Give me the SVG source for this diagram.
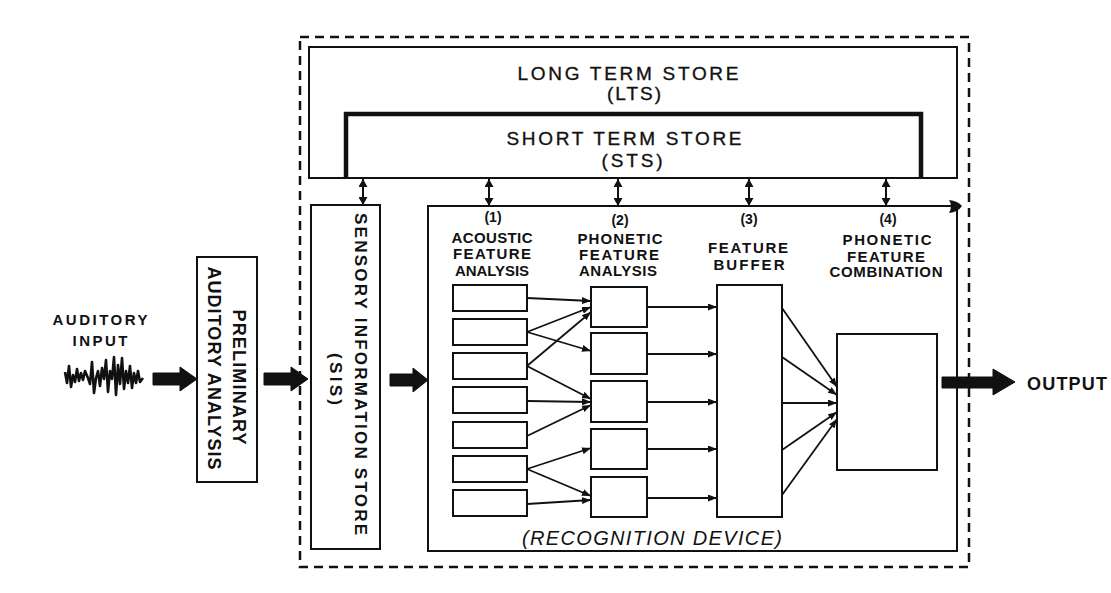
<svg xmlns="http://www.w3.org/2000/svg" width="1111" height="593" viewBox="0 0 1111 593">
  <defs>
    <style>
      .box { fill: none; stroke: #111; stroke-width: 2; }
      .arrow { fill: none; stroke: #111; stroke-width: 1.8; marker-end: url(#head); }
      .dbl { fill: none; stroke: #111; stroke-width: 2; marker-start: url(#small); marker-end: url(#small); }
      .fat { fill: #111; stroke: #111; stroke-width: 1; stroke-linejoin: round; }
      .lbl { font-family: "Liberation Sans", Arial, sans-serif; font-weight: bold; fill: #111; text-anchor: middle; }
      .store { font-family: "Liberation Sans", Arial, sans-serif; font-size: 19px; fill: #111; text-anchor: middle; stroke: #111; stroke-width: 0.35; }
    </style>
    <marker id="head" viewBox="0 0 9 7" refX="9" refY="3.5" markerWidth="9" markerHeight="7" markerUnits="userSpaceOnUse" orient="auto">
      <path d="M0,0 L9,3.5 L0,7 z" fill="#111"/>
    </marker>
    <marker id="small" viewBox="0 0 8 9" refX="8" refY="4.5" markerWidth="8" markerHeight="9" markerUnits="userSpaceOnUse" orient="auto-start-reverse">
      <path d="M0,0 L8,4.5 L0,9 z" fill="#111"/>
    </marker>
  </defs>

  <rect width="1111" height="593" fill="#ffffff"/>

  <!-- dashed boundary of the memory system -->
  <rect id="system" x="300" y="37" width="669" height="530" fill="none" stroke="#111" stroke-width="2.5" stroke-dasharray="9 6"/>

  <g id="lts">
    <rect class="box" x="309" y="47" width="648" height="131"/>
    <text class="store" x="628" y="80" textLength="221" lengthAdjust="spacing">LONG TERM STORE</text>
    <text class="store" x="634" y="100" textLength="54" lengthAdjust="spacing">(LTS)</text>
  </g>

  <g id="sts">
    <path d="M346,178 V114 H921 V178" fill="none" stroke="#111" stroke-width="4.5"/>
    <text class="store" x="624" y="145" textLength="235" lengthAdjust="spacing">SHORT TERM STORE</text>
    <text class="store" x="632" y="167" textLength="61" lengthAdjust="spacing">(STS)</text>
  </g>

  <g id="auditory-input">
    <text class="lbl" x="100" y="325" font-size="15" textLength="95" lengthAdjust="spacing">AUDITORY</text>
    <text class="lbl" x="100" y="346" font-size="15" textLength="55" lengthAdjust="spacing">INPUT</text>
    <polyline fill="none" stroke="#111" stroke-width="2.6" stroke-linejoin="round"
      points="65,372 67,383 69,366 71,387 73,375 75,382 77,369 79,381 81,373 83,380 85,371 88,378 90,384 92,362 94,393 96,378 98,371 100,386 102,368 104,379 106,360 108,392 110,371 112,379 114,357 116,395 118,365 120,384 122,358 124,389 126,371 128,383 130,366 132,388 134,373 136,383 138,371 140,382 143,378"/>
  </g>

  <g id="preliminary">
    <rect class="box" x="197" y="257" width="60" height="225"/>
    <text class="lbl" font-size="18" transform="translate(233,377) rotate(90)" textLength="135" lengthAdjust="spacing">PRELIMINARY</text>
    <text class="lbl" font-size="18" transform="translate(208,368) rotate(90)" textLength="203" lengthAdjust="spacing">AUDITORY  ANALYSIS</text>
  </g>

  <g id="sis">
    <rect class="box" x="311" y="205" width="69" height="344"/>
    <text class="lbl" font-size="17" transform="translate(355,374) rotate(90)" textLength="322" lengthAdjust="spacing">SENSORY INFORMATION STORE</text>
    <text class="lbl" font-size="17" transform="translate(330,379) rotate(90)" textLength="52" lengthAdjust="spacing">(SIS)</text>
  </g>

  <g id="recognition-device">
    <rect class="box" x="428" y="206" width="529" height="345"/>
    <text x="652" y="545" font-family="'Liberation Sans', Arial, sans-serif" font-size="20" font-style="italic" fill="#111" text-anchor="middle" textLength="260" lengthAdjust="spacing">(RECOGNITION  DEVICE)</text>
    <path d="M949,200 Q958,201 962,206 Q958,212 949,213 Q953,206 949,200 z" fill="#111"/>
  </g>

  <g id="acoustic-analysis">
    <text class="lbl" x="493" y="222" font-size="14">(1)</text>
    <text class="lbl" x="492" y="243" font-size="15" textLength="81" lengthAdjust="spacing">ACOUSTIC</text>
    <text class="lbl" x="492" y="259" font-size="15" textLength="78" lengthAdjust="spacing">FEATURE</text>
    <text class="lbl" x="492" y="276" font-size="15" textLength="74" lengthAdjust="spacing">ANALYSIS</text>
    <rect class="box" x="453" y="285" width="74" height="26"/>
    <rect class="box" x="453" y="319" width="74" height="26"/>
    <rect class="box" x="453" y="353" width="74" height="26"/>
    <rect class="box" x="453" y="387" width="74" height="26"/>
    <rect class="box" x="453" y="422" width="74" height="26"/>
    <rect class="box" x="453" y="456" width="74" height="26"/>
    <rect class="box" x="453" y="490" width="74" height="26"/>
  </g>

  <g id="phonetic-analysis">
    <text class="lbl" x="620" y="225" font-size="14">(2)</text>
    <text class="lbl" x="620" y="244" font-size="15" textLength="85" lengthAdjust="spacing">PHONETIC</text>
    <text class="lbl" x="619" y="260" font-size="15" textLength="80" lengthAdjust="spacing">FEATURE</text>
    <text class="lbl" x="618" y="276" font-size="15" textLength="78" lengthAdjust="spacing">ANALYSIS</text>
    <rect class="box" x="591" y="287" width="56" height="40"/>
    <rect class="box" x="591" y="333" width="56" height="41"/>
    <rect class="box" x="591" y="381" width="56" height="41"/>
    <rect class="box" x="591" y="429" width="56" height="40"/>
    <rect class="box" x="591" y="477" width="56" height="40"/>
  </g>

  <g id="feature-buffer">
    <text class="lbl" x="749" y="224" font-size="14">(3)</text>
    <text class="lbl" x="748" y="253" font-size="15" textLength="80" lengthAdjust="spacing">FEATURE</text>
    <text class="lbl" x="749" y="270" font-size="15" textLength="71" lengthAdjust="spacing">BUFFER</text>
    <rect class="box" x="717" y="285" width="65" height="232"/>
  </g>

  <g id="feature-combination">
    <text class="lbl" x="888" y="224" font-size="14">(4)</text>
    <text class="lbl" x="887" y="245" font-size="15" textLength="89" lengthAdjust="spacing">PHONETIC</text>
    <text class="lbl" x="886" y="262" font-size="15" textLength="78" lengthAdjust="spacing">FEATURE</text>
    <text class="lbl" x="886" y="277" font-size="15" textLength="113" lengthAdjust="spacing">COMBINATION</text>
    <rect class="box" x="837" y="334" width="100" height="136"/>
  </g>

  <g id="output">
    <text x="1027" y="390" font-family="'Liberation Sans', Arial, sans-serif" font-size="18" font-weight="bold" fill="#111" textLength="80" lengthAdjust="spacing">OUTPUT</text>
  </g>

  <g id="connectors">
    <!-- block arrows along the main signal path -->
    <path class="fat" d="M153,373 H180 V367 L197,379 L180,391 V385 H153 z"/>
    <path class="fat" d="M264,373 H291 V367 L308,379 L291,391 V385 H264 z"/>
    <path class="fat" d="M390,374 H413 V368 L428,380 L413,392 V386 H390 z"/>
    <path class="fat" d="M942,377 H993 V369 L1015,382 L993,395 V388 H942 z"/>

    <!-- two-way links between STS and the processing stages -->
    <line class="dbl" x1="363" y1="179" x2="363" y2="205"/>
    <line class="dbl" x1="489" y1="179" x2="489" y2="206"/>
    <line class="dbl" x1="618" y1="179" x2="618" y2="206"/>
    <line class="dbl" x1="749" y1="179" x2="749" y2="206"/>
    <line class="dbl" x1="886" y1="179" x2="886" y2="206"/>

    <!-- acoustic features to phonetic features -->
    <line class="arrow" x1="527" y1="298" x2="591" y2="301"/>
    <line class="arrow" x1="527" y1="332" x2="591" y2="307"/>
    <line class="arrow" x1="527" y1="332" x2="591" y2="351"/>
    <line class="arrow" x1="527" y1="366" x2="591" y2="312"/>
    <line class="arrow" x1="527" y1="366" x2="591" y2="399"/>
    <line class="arrow" x1="527" y1="401" x2="591" y2="402"/>
    <line class="arrow" x1="527" y1="436" x2="591" y2="405"/>
    <line class="arrow" x1="527" y1="469" x2="591" y2="448"/>
    <line class="arrow" x1="527" y1="469" x2="591" y2="496"/>
    <line class="arrow" x1="527" y1="504" x2="591" y2="500"/>

    <!-- phonetic features into the buffer -->
    <line class="arrow" x1="647" y1="307" x2="717" y2="307"/>
    <line class="arrow" x1="647" y1="354" x2="717" y2="354"/>
    <line class="arrow" x1="647" y1="402" x2="717" y2="402"/>
    <line class="arrow" x1="647" y1="449" x2="717" y2="449"/>
    <line class="arrow" x1="647" y1="498" x2="717" y2="498"/>

    <!-- buffer into the combination stage -->
    <line class="arrow" x1="782" y1="308" x2="837" y2="387"/>
    <line class="arrow" x1="782" y1="357" x2="837" y2="395"/>
    <line class="arrow" x1="782" y1="403" x2="837" y2="403"/>
    <line class="arrow" x1="782" y1="450" x2="837" y2="412"/>
    <line class="arrow" x1="782" y1="495" x2="837" y2="419"/>
  </g>
</svg>
